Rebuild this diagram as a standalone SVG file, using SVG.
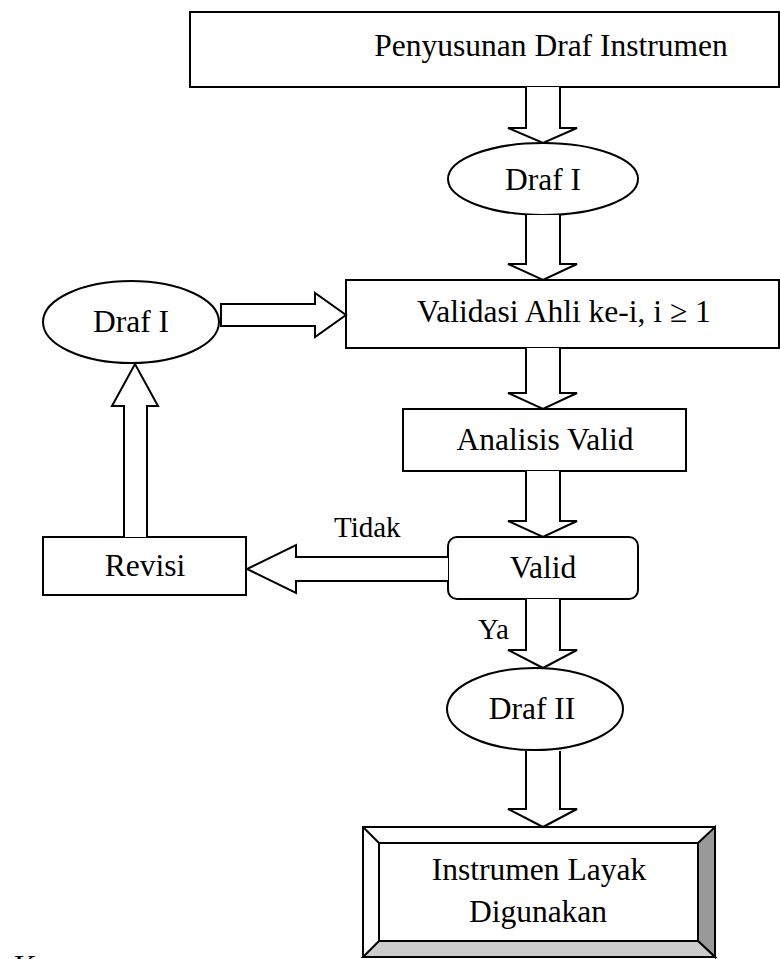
<svg xmlns="http://www.w3.org/2000/svg" width="780" height="959" viewBox="0 0 780 959">
<style>
.n{fill:#fff;stroke:#000;stroke-width:2}
.c{fill:#fff;stroke:#000;stroke-width:2;stroke-linejoin:miter}
.t{font-family:"Liberation Serif","Times New Roman",serif;font-size:31.5px;fill:#000;text-anchor:middle}
.l{font-family:"Liberation Serif","Times New Roman",serif;font-size:29px;fill:#000}
</style>
<rect width="780" height="959" fill="#fff"/>
<g id="n-penyusunan">
<rect class="n" x="190" y="12" width="589" height="75"/>
<text class="t" x="551" y="56">Penyusunan Draf Instrumen</text>
</g>
<g id="n-draf1">
<ellipse class="n" cx="543" cy="179" rx="95" ry="36"/>
<text class="t" x="543" y="190">Draf I</text>
</g>
<g id="n-validasi">
<rect class="n" x="346" y="280" width="433" height="68"/>
<text class="t" x="564" y="322">Validasi Ahli ke-i, i ≥ 1</text>
</g>
<g id="n-analisis">
<rect class="n" x="403" y="409" width="283" height="62"/>
<text class="t" x="545" y="450">Analisis Valid</text>
</g>
<g id="n-valid">
<rect class="n" x="448" y="537" width="190" height="62" rx="9"/>
<text class="t" x="543" y="578">Valid</text>
</g>
<g id="n-revisi">
<rect class="n" x="43" y="537" width="203" height="58"/>
<text class="t" x="145" y="576">Revisi</text>
</g>
<g id="n-draf1-left">
<ellipse class="n" cx="131" cy="322" rx="88" ry="41"/>
<text class="t" x="131" y="332">Draf I</text>
</g>
<g id="n-draf2">
<ellipse class="n" cx="535" cy="709" rx="88" ry="41"/>
<text class="t" x="532" y="719">Draf II</text>
</g>
<g id="n-instrumen">
<rect x="363" y="827" width="352" height="130" fill="#fff" stroke="#000" stroke-width="2"/>
<polygon points="698,843 715,827 715,957 698,941" fill="#999" stroke="#000" stroke-width="2"/>
<polygon points="379,941 698,941 715,957 363,957" fill="#ccc" stroke="#000" stroke-width="2"/>
<line x1="363" y1="827" x2="379" y2="843" stroke="#000" stroke-width="2"/>
<rect x="379" y="843" width="319" height="98" fill="#fff" stroke="#000" stroke-width="2"/>
<text class="t" x="539" y="880">Instrumen Layak</text>
<text class="t" x="538" y="922">Digunakan</text>
</g>
<g id="connectors">
<path class="c" d="M526 87 L526 128 L508 128 L543 143 L577 128 L560 128 L560 87"/>
<path class="c" d="M526 215 L526 264 L508 264 L543 280 L577 264 L560 264 L560 215"/>
<path class="c" d="M526 348 L526 393 L508 393 L543 409 L577 393 L560 393 L560 348"/>
<path class="c" d="M526 471 L526 521 L508 521 L543 537 L577 521 L560 521 L560 471"/>
<path class="c" d="M526 599 L526 650 L508 650 L543 668 L577 650 L560 650 L560 599"/>
<path class="c" d="M526 751 L526 809 L508 809 L543 827 L577 809 L560 809 L560 751"/>
<path class="c" d="M448 557 L296 557 L296 545 L247 569 L296 593 L296 581 L448 581"/>
<path class="c" d="M124 537 L124 406 L112 406 L135 364 L158 406 L147 406 L147 537"/>
<polygon class="c" points="221,304 315,304 315,293 346,315 315,337 315,326 221,326"/>
<text class="l" x="334" y="537">Tidak</text>
<text class="l" x="478" y="639">Ya</text>
</g>
<text class="t" x="14" y="977" text-anchor="start" style="text-anchor:start">K</text>
</svg>
